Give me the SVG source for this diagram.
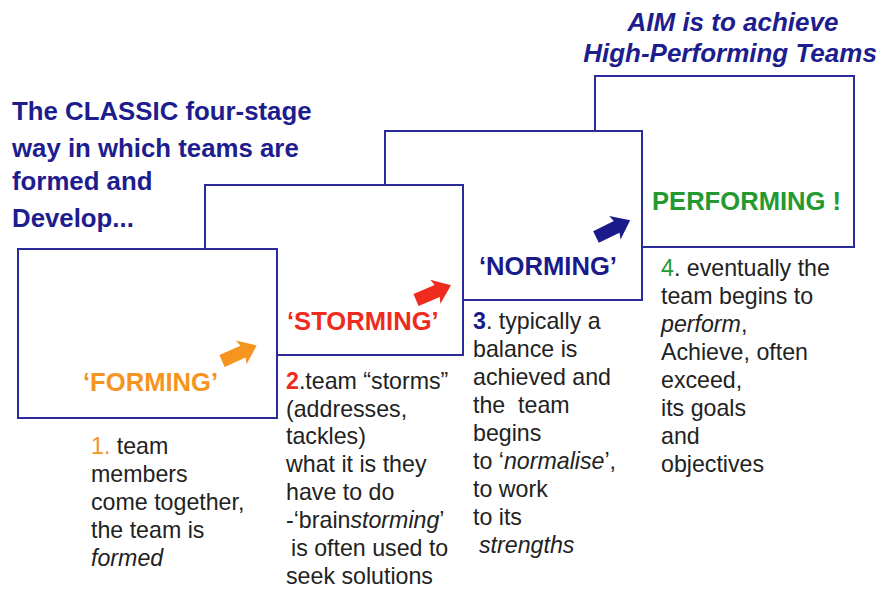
<svg xmlns="http://www.w3.org/2000/svg" xmlns:xlink="http://www.w3.org/1999/xlink" width="880" height="590" viewBox="0 0 880 590">
  <style>
    .box { fill: #ffffff; stroke: #2b2b9c; stroke-width: 2; }
    .title { font-family: "Liberation Sans", Arial, sans-serif; font-weight: bold; font-size: 25.8px; fill: #1d1d8e; }
    .aim { font-family: "Liberation Sans", Arial, sans-serif; font-weight: bold; font-style: italic; font-size: 26px; fill: #1d1d8e; text-anchor: middle; }
    .label { font-family: "Liberation Sans", Arial, sans-serif; font-weight: bold; font-size: 25.6px; }
    .body { font-family: "Liberation Sans", Arial, sans-serif; font-size: 23.2px; fill: #222222; }
    .it { font-style: italic; }
    .num { font-weight: bold; }
    .orange { fill: #f5941f; }
    .red { fill: #ee2b1c; }
    .navy { fill: #1a1a8a; }
    .green { fill: #23992f; }
  </style>
  <defs>
    <!-- block arrow pointing along +x, tail centre at origin -->
    <path id="arrow" d="M0,-6.5 L23,-6.5 L21,-13 L38,0 L21,13 L23,6.5 L0,6.5 Z"/>
  </defs>

  <rect width="880" height="590" fill="#ffffff"/>

  <!-- heading texts -->
  <g id="heading">
    <text class="title" x="12" y="120">The CLASSIC four-stage</text>
    <text class="title" x="12" y="157">way in which teams are</text>
    <text class="title" x="12" y="190">formed and</text>
    <text class="title" x="12" y="227">Develop...</text>
  </g>
  <g id="aim">
    <text class="aim" x="733" y="31">AIM is to achieve</text>
    <text class="aim" x="730" y="62">High-Performing Teams</text>
  </g>

  <!-- stage boxes, later ones drawn first so earlier stages overlap them -->
  <g id="performing">
    <rect class="box" x="595" y="76" width="259" height="171"/>
    <text class="label green" x="652" y="210">PERFORMING !</text>
  </g>
  <g id="norming">
    <rect class="box" x="385" y="131" width="257" height="169"/>
    <text class="label navy" x="479" y="275">‘NORMING’</text>
  </g>
  <g id="storming">
    <rect class="box" x="205" y="185" width="258" height="170"/>
    <text class="label red" x="287" y="330">‘STORMING’</text>
  </g>
  <g id="forming">
    <rect class="box" x="18" y="249" width="259" height="169"/>
    <text class="label orange" x="83" y="391">‘FORMING’</text>
  </g>

  <!-- progression arrows -->
  <g id="connectors">
    <use xlink:href="#arrow" class="orange" transform="translate(222,361) rotate(-24)"/>
    <use xlink:href="#arrow" class="red" transform="translate(416,300) rotate(-23)"/>
    <use xlink:href="#arrow" class="navy" transform="translate(596,237) rotate(-26)"/>
  </g>

  <!-- stage descriptions -->
  <g id="desc-forming" class="body">
    <text x="91" y="454"><tspan class="orange">1.</tspan> team</text>
    <text x="91" y="482">members</text>
    <text x="91" y="510">come together,</text>
    <text x="91" y="538">the team is</text>
    <text x="91" y="566" class="it">formed</text>
  </g>
  <g id="desc-storming" class="body">
    <text x="286" y="389"><tspan class="red num">2</tspan>.team “storms”</text>
    <text x="286" y="417">(addresses,</text>
    <text x="286" y="444">tackles)</text>
    <text x="286" y="472">what it is they</text>
    <text x="286" y="500">have to do</text>
    <text x="286" y="528">-‘brain<tspan class="it">storming</tspan>’</text>
    <text x="291" y="556">is often used to</text>
    <text x="286" y="584">seek solutions</text>
  </g>
  <g id="desc-norming" class="body">
    <text x="473" y="329"><tspan class="navy num">3</tspan>. typically a</text>
    <text x="473" y="357">balance is</text>
    <text x="473" y="385">achieved and</text>
    <text x="473" y="413" xml:space="preserve">the  team</text>
    <text x="473" y="441">begins</text>
    <text x="473" y="469">to ‘<tspan class="it">normalise</tspan>’,</text>
    <text x="473" y="497">to work</text>
    <text x="473" y="525">to its</text>
    <text x="479" y="553" class="it">strengths</text>
  </g>
  <g id="desc-performing" class="body">
    <text x="661" y="276"><tspan class="green">4</tspan>. eventually the</text>
    <text x="661" y="304">team begins to</text>
    <text x="661" y="332"><tspan class="it">perform</tspan>,</text>
    <text x="661" y="360">Achieve, often</text>
    <text x="661" y="388">exceed,</text>
    <text x="661" y="416">its goals</text>
    <text x="661" y="444">and</text>
    <text x="661" y="472">objectives</text>
  </g>
</svg>
